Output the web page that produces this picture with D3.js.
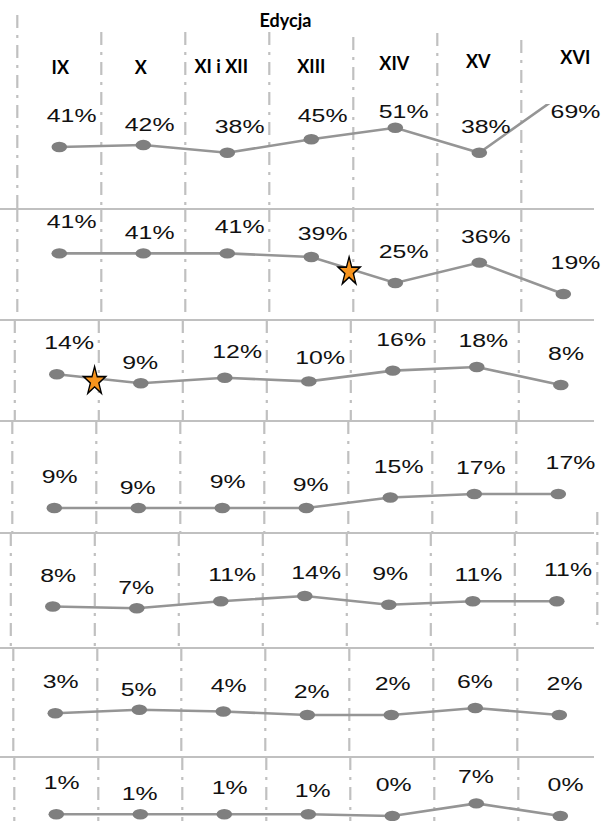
<!DOCTYPE html>
<html><head><meta charset="utf-8">
<script src="https://cdnjs.cloudflare.com/ajax/libs/d3/7.8.5/d3.min.js"></script>
<style>html,body{margin:0;padding:0;background:#fff;} svg{display:block;}</style>
</head><body>
<div id="chart"></div>
<script>
// ---------- data ----------
const title = "Edycja";
const categories = ["IX", "X", "XI i XII", "XIII", "XIV", "XV", "XVI"];
const row1 = [41, 42, 38, 45, 51, 38, 69];
const row2 = [41, 41, 41, 39, 25, 36, 19];
const row3 = [14, 9, 12, 10, 16, 18, 8];
const row4 = [9, 9, 9, 9, 15, 17, 17];
const row5 = [8, 7, 11, 14, 9, 11, 11];
const row6 = [3, 5, 4, 2, 2, 6, 2];
const row7 = [1, 1, 1, 1, 0, 7, 0];
const series = [row1, row2, row3, row4, row5, row6, row7];
// star markers: row index, position along category index
const starRows = [1, 2];
const starAt = [3.45, 0.45];

// ---------- layout ----------
const W = 601, H = 821;
const panels = [
  {top: 0,   bottom: 209, zero: 225.7, k: 1.92, shift: 0,    clipTop: 104},
  {top: 209, bottom: 320, zero: 329.2, k: 1.85, shift: 0},
  {top: 320, bottom: 421, zero: 399.4, k: 1.80, shift: -2.5},
  {top: 421, bottom: 533, zero: 523.8, k: 1.75, shift: -5},
  {top: 533, bottom: 648, zero: 620.6, k: 1.76, shift: -6.5},
  {top: 648, bottom: 757, zero: 718.5, k: 1.75, shift: -4},
  {top: 757, bottom: 821, zero: 816.0, k: 1.80, shift: -3}
];
const labelDx = [-12.5, -18.5, -12.5, -13.5, -16.5, -18.3, -12.7];
const labelLift = [25, 14, 20, 17, 25, 20, 25];
const headerDx = [1, -2.5, -6, 0, -1, -1, 12];
const headerY = [73.5, 73.5, 73, 72.5, 70, 68, 64];
const vTop = [15, 32, 32, 32, 37, 33, 40];

const gridColor = "#c0c0c0";
const lineColor = "#959595";
const dotColor = "#7f7f7f";
const dash = "13,7,3,7";

const svg = d3.select("#chart").append("svg").attr("width", W).attr("height", H);
const defs = svg.append("defs");

panels.forEach((p, pi) => {
  p.x = d3.scaleLinear().domain([0, categories.length - 1]).range([59.3 + p.shift, 563.3 + p.shift]);
  p.y = d3.scaleLinear().domain([0, 100]).range([p.zero, p.zero - 100 * p.k]);
});

// separators
svg.append("g").selectAll("line").data(panels.slice(1)).join("line")
  .attr("x1", 0).attr("x2", 594)
  .attr("y1", d => d.top).attr("y2", d => d.top)
  .attr("stroke", gridColor).attr("stroke-width", 2);

// vertical dashed lines
const vg = svg.append("g");
panels.forEach((p, pi) => {
  categories.forEach((c, i) => {
    vg.append("line")
      .attr("x1", p.x(i - 0.5)).attr("x2", p.x(i - 0.5))
      .attr("y1", pi === 0 ? vTop[i] : p.top)
      .attr("y2", p.bottom)
      .attr("stroke", gridColor).attr("stroke-width", 2.2)
      .attr("stroke-dasharray", dash);
  });
});
// partial right border line
vg.append("line")
  .attr("x1", panels[3].x(6.5) - 3).attr("x2", panels[3].x(6.5) - 3)
  .attr("y1", 512).attr("y2", 632)
  .attr("stroke", gridColor).attr("stroke-width", 2.2)
  .attr("stroke-dasharray", dash);

// series
panels.forEach((p, pi) => {
  const vals = series[pi];
  const g = svg.append("g");
  if (p.clipTop !== undefined) {
    defs.append("clipPath").attr("id", "clip" + pi)
      .append("rect").attr("x", 0).attr("y", p.clipTop).attr("width", W).attr("height", p.bottom - p.clipTop);
    g.attr("clip-path", `url(#clip${pi})`);
  }
  const line = d3.line().x((d, i) => p.x(i)).y(d => p.y(d));
  g.append("path").datum(vals).attr("d", line)
    .attr("fill", "none").attr("stroke", lineColor).attr("stroke-width", 2.6);
  g.selectAll("ellipse").data(vals).join("ellipse")
    .attr("cx", (d, i) => p.x(i)).attr("cy", d => p.y(d))
    .attr("rx", 7.8).attr("ry", 5.2).attr("fill", dotColor);

  svg.append("g").selectAll("text").data(vals).join("text")
    .attr("transform", (d, i) => {
      let y = p.y(d) - labelLift[i];
      if (p.clipTop !== undefined) y = Math.max(y, p.clipTop + 14);
      return `translate(${p.x(i) + labelDx[i]},${y}) scale(1.38,1)`;
    })
    .attr("font-family", "'Liberation Sans', Arial, sans-serif")
    .attr("font-size", 18).attr("fill", "#111")
    .text(d => d + "%");
});

// stars
const star = d3.symbol().type(d3.symbolStar).size(151);
starRows.forEach((r, si) => {
  const p = panels[r];
  const a = starAt[si];
  const i0 = Math.floor(a), t = a - i0;
  const yv = d3.interpolateNumber(p.y(series[r][i0]), p.y(series[r][i0 + 1]))(t);
  svg.append("path").attr("d", star())
    .attr("transform", `translate(${p.x(a)},${yv + 3}) scale(1,1.28)`)
    .attr("fill", "#f7941d").attr("stroke", "#000").attr("stroke-width", 1.3)
    .attr("stroke-linejoin", "miter");
});

// headers
const hf = "Lato, 'Open Sans', sans-serif";
svg.append("text").attr("x", 285.5).attr("y", 27).attr("text-anchor", "middle")
  .attr("font-family", hf).attr("font-weight", 700).attr("font-size", 18).text(title);
svg.append("g").selectAll("text").data(categories).join("text")
  .attr("x", (d, i) => panels[0].x(i) + headerDx[i]).attr("y", (d, i) => headerY[i])
  .attr("text-anchor", "middle")
  .attr("font-family", hf).attr("font-weight", 700).attr("font-size", 18)
  .text(d => d);
</script>
</body></html>
